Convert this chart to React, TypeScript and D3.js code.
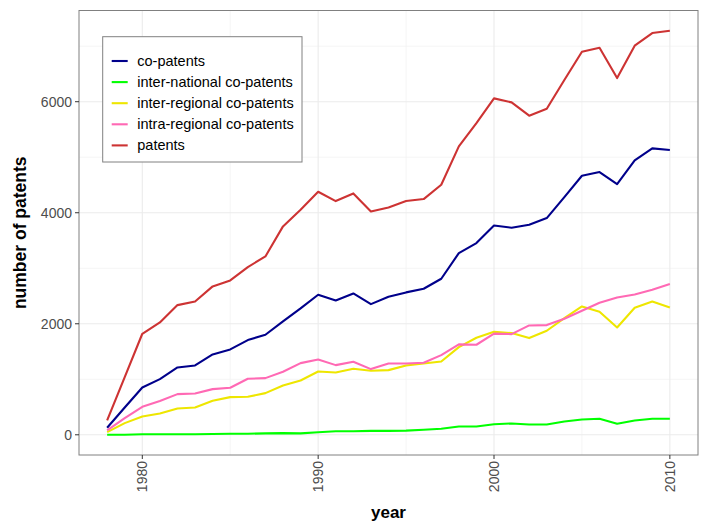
import React from "react";
import * as d3 from "d3";

const years = [1978,1979,1980,1981,1982,1983,1984,1985,1986,1987,1988,1989,1990,1991,1992,1993,1994,1995,1996,1997,1998,1999,2000,2001,2002,2003,2004,2005,2006,2007,2008,2009,2010];

const patents = [258,1040,1820,2024,2336,2402,2673,2781,3021,3213,3754,4054,4378,4210,4348,4024,4096,4210,4246,4505,5195,5616,6060,5988,5748,5874,6390,6901,6973,6426,7009,7237,7279];
const coPatents = [126,492,853,1003,1213,1249,1447,1538,1706,1802,2042,2276,2523,2420,2546,2354,2486,2565,2631,2811,3273,3453,3770,3730,3784,3904,4282,4667,4733,4517,4943,5159,5129];
const interNational = [0,0,10,10,10,10,15,20,20,25,30,25,45,65,65,70,70,75,90,110,150,150,190,204,186,186,240,276,288,198,258,288,288];
const interRegional = [48,210,330,384,474,492,613,679,685,751,889,979,1141,1123,1189,1153,1165,1249,1285,1321,1580,1748,1856,1832,1742,1874,2102,2312,2216,1934,2288,2402,2294];
const intraRegional = [78,300,505,607,733,745,823,847,1009,1021,1135,1291,1357,1255,1315,1183,1285,1285,1297,1435,1628,1622,1823,1814,1970,1976,2090,2234,2378,2474,2528,2613,2715];

const seriesNames = ["co-patents","inter-national co-patents","inter-regional co-patents","intra-regional co-patents","patents"];
const seriesValues = [coPatents, interNational, interRegional, intraRegional, patents];
const seriesColors = ["#00008B","#00FF00","#EEE600","#FF69B4","#CD3333"];

const xTicks = [1980,1990,2000,2010];
const xMinor = [1985,1995,2005];
const yTicks = [0,2000,4000,6000];
const yMinor = [1000,3000,5000,7000];

export default function App() {
  const W = 705, H = 523;
  const L = 79, R = 698, T = 10.5, B = 455;
  const font = "'Liberation Sans', Arial, sans-serif";

  const xMin = d3.min(years)!, xMax = d3.max(years)!;
  const xPad = (xMax - xMin) * 0.05;
  const x = d3.scaleLinear().domain([xMin - xPad, xMax + xPad]).range([L, R]);

  const all = seriesValues.flat();
  const yMinV = d3.min(all)!, yMaxV = d3.max(all)!;
  const yPad = (yMaxV - yMinV) * 0.05;
  const y = d3.scaleLinear().domain([yMinV - yPad, yMaxV + yPad]).range([B, T]);

  const line = d3.line<number>().x((_, i) => x(years[i])).y(d => y(d));

  return (
    <svg width={W} height={H} style={{ position: "absolute", left: 0, top: 0, background: "#fff" }} fontFamily={font}>
      <rect x={0} y={0} width={W} height={H} fill="#fff" />
      {yMinor.map(v => <line key={"ym" + v} x1={L} x2={R} y1={y(v)} y2={y(v)} stroke="#f3f3f3" strokeWidth={0.8} />)}
      {xMinor.map(v => <line key={"xm" + v} x1={x(v)} x2={x(v)} y1={T} y2={B} stroke="#f3f3f3" strokeWidth={0.8} />)}
      {yTicks.map(v => <line key={"yg" + v} x1={L} x2={R} y1={y(v)} y2={y(v)} stroke="#ebebeb" strokeWidth={1.1} />)}
      {xTicks.map(v => <line key={"xg" + v} x1={x(v)} x2={x(v)} y1={T} y2={B} stroke="#ebebeb" strokeWidth={1.1} />)}
      {seriesValues.map((vals, i) => (
        <path key={seriesNames[i]} d={line(vals)!} fill="none" stroke={seriesColors[i]} strokeWidth={2.1} strokeLinejoin="round" />
      ))}
      <rect x={L} y={T} width={R - L} height={B - T} fill="none" stroke="#808080" strokeWidth={1} />
      {yTicks.map(v => (
        <g key={"yt" + v}>
          <line x1={L - 4} x2={L} y1={y(v)} y2={y(v)} stroke="#333" strokeWidth={1} />
          <text x={L - 7} y={y(v)} dy="0.35em" textAnchor="end" fontSize={14} fill="#4d4d4d">{v}</text>
        </g>
      ))}
      {xTicks.map(v => (
        <g key={"xt" + v}>
          <line x1={x(v)} x2={x(v)} y1={B} y2={B + 4} stroke="#333" strokeWidth={1} />
          <text transform={`translate(${x(v)},${B + 6}) rotate(-90)`} dy="0.35em" textAnchor="end" fontSize={14} fill="#4d4d4d">{v}</text>
        </g>
      ))}
      <text x={(L + R) / 2} y={518} textAnchor="middle" fontSize={17} fontWeight="bold" fill="#000">year</text>
      <text transform={`translate(26,${(T + B) / 2}) rotate(-90)`} textAnchor="middle" fontSize={17.5} fontWeight="bold" fill="#000">number of patents</text>
      <rect x={102.7} y={36.7} width={199.3} height={125.3} fill="#fff" stroke="#808080" strokeWidth={1} />
      {seriesNames.map((n, i) => {
        const cy = 61 + i * 21.1;
        return (
          <g key={"lg" + n}>
            <line x1={111.7} x2={127.7} y1={cy} y2={cy} stroke={seriesColors[i]} strokeWidth={2.1} />
            <text x={137.3} y={cy} dy="0.35em" fontSize={14.5} fill="#000">{n}</text>
          </g>
        );
      })}
    </svg>
  );
}
